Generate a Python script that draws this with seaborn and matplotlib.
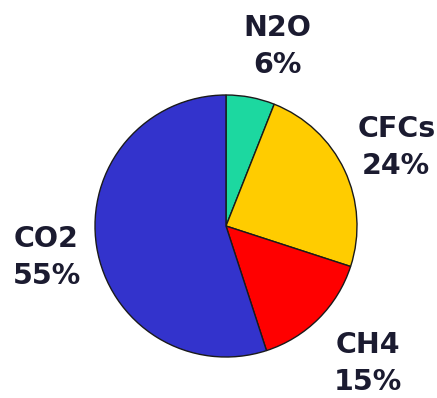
import matplotlib
matplotlib.use("Agg")
import matplotlib.pyplot as plt
import seaborn as sns

# Greenhouse gas shares
gases = ["N2O", "CFCs", "CH4", "CO2"]
shares = [6, 24, 15, 55]
colors = ["#1cd8a0", "#ffcc00", "#ff0000", "#3333cc"]

# label anchor points, in units of the pie radius
label_xy = [(0.39, 1.37), (1.30, 0.60), (1.08, -1.05), (-1.37, -0.24)]

sns.set_theme(style="white")
plt.rcParams["font.family"] = ["DejaVu Sans"]

fig = plt.figure(figsize=(4.37, 3.98), dpi=100)
ax = fig.add_axes([95 / 437, 41 / 398, 262 / 437, 262 / 398])

wedges, _ = ax.pie(
    shares,
    colors=colors,
    startangle=90,
    counterclock=False,
    radius=1.0,
    wedgeprops=dict(edgecolor="#1a1a1a", linewidth=1.0),
)
ax.set_xlim(-1.0, 1.0)
ax.set_ylim(-1.0, 1.0)
ax.set_aspect("equal")
ax.axis("off")

for name, val, (x, y) in zip(gases, shares, label_xy):
    ax.text(x, y, f"{name}\n{val}%",
            ha="center", va="center", fontsize=20.5, fontweight="bold",
            color="#1b1b30", linespacing=1.4, clip_on=False)

fig.savefig("out.png", dpi=100)
